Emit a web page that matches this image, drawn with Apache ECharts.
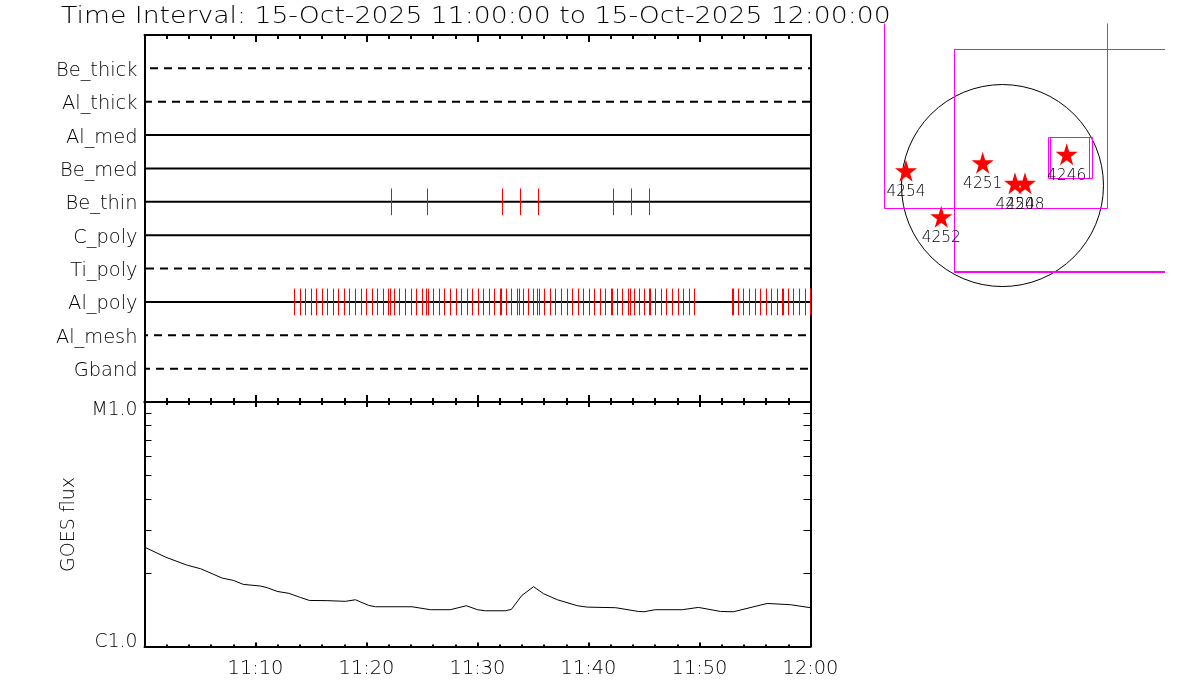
<!DOCTYPE html>
<html>
<head>
<meta charset="utf-8">
<title>Time Interval</title>
<style>html,body{margin:0;padding:0;background:#fff}#main{width:1200px;height:700px}</style>
<script src="https://cdn.jsdelivr.net/npm/echarts@6/dist/echarts.min.js"></script>
</head>
<body>
<div id="main"></div>
<script>
var titleText = 'Time Interval: 15-Oct-2025 11:00:00 to 15-Oct-2025 12:00:00';
var detectors = ['Be_thick', 'Al_thick', 'Al_med', 'Be_med', 'Be_thin', 'C_poly', 'Ti_poly', 'Al_poly', 'Al_mesh', 'Gband'];
var solidRows = ['Al_med', 'Be_med', 'Be_thin', 'C_poly', 'Al_poly'];
var timeLabels = ['', '11:10', '11:20', '11:30', '11:40', '11:50', '12:00'];

// minutes after 11:00 of each red exposure mark
var beThinTimes = [22.24, 25.49, 32.24, 33.86, 35.49, 42.24, 43.86, 45.49];
var alPolyTimes = [13.5, 14.05, 14.5, 15.04, 15.49, 16.03, 16.48, 17.02, 17.47, 18.01, 18.46, 19, 19.54, 19.99,
  20.53, 20.98, 21.52, 21.97, 22.15, 22.51, 22.96, 23.5, 24.04, 24.5, 25.04, 25.4, 25.58, 26.03, 26.57, 27.02,
  27.56, 28.1, 28.55, 29.09, 29.54, 30.08, 30.53, 31.07, 31.52, 32.06, 32.15, 32.6, 33.05, 33.59, 33.77, 34.13,
  34.58, 35.03, 35.39, 35.58, 36.03, 36.57, 37.02, 37.56, 38.1, 38.55, 39.09, 39.54, 40.08, 40.53, 41.07, 41.52,
  42.06, 42.15, 42.6, 43.05, 43.59, 43.77, 44.13, 44.58, 45.04, 45.49, 45.58, 46.03, 46.57, 47.02, 47.56, 48.1,
  48.55, 49.09, 49.54, 52.96, 53.05, 53.5, 53.95, 54.49, 55.03, 55.48, 56.02, 56.47, 57.01, 57.46, 57.55, 58.01,
  58.46, 59, 59.54, 60];

// GOES curve
var goesTimes = [0, 1.9, 3.85, 5.05, 7, 8, 8.9, 10.45, 11.05, 11.95, 13, 14.05, 14.85, 16.45, 16.6, 18.1, 19, 20.2,
  20.8, 24.1, 25.75, 27.55, 29, 30, 30.7, 32.5, 33.05, 34, 35.05, 35.95, 37.2, 39, 39.9, 42.45, 44.5, 45, 46, 48.45,
  49.9, 51.9, 53.05, 56.1, 58.2, 60];
var goesFlux = [2.55, 2.32, 2.15, 2.08, 1.905, 1.864, 1.795, 1.767, 1.74, 1.68, 1.65, 1.587, 1.543, 1.54, 1.525, 1.53,
  1.553, 1.472, 1.454, 1.454, 1.414, 1.414, 1.468, 1.414, 1.4, 1.4, 1.418, 1.618, 1.756, 1.644, 1.553, 1.468, 1.449,
  1.441, 1.391, 1.387, 1.414, 1.414, 1.445, 1.391, 1.387, 1.5, 1.482, 1.441];
var fluxTicks = [2, 3, 4, 5, 6, 7, 8, 9];
var fluxLabels = { 1: '{c|C1.0}', 10: '{m|M1.0}' };

// solar map, arcsec
var solarRadius = 960;
var regionNames = ['4254', '4251', '4250', '4248', '4252', '4246'];
var regionX = [-917, -188, 119, 214, -582, 610];
var regionY = [141, 217, 21, 21, -297, 297];
var fovX0 = [-1123, -458, -458, 439, 461];
var fovX1 = [996, 1656, 1656, 832, 860];
var fovY0 = [-217, -819, -829, 71, 67];
var fovY1 = [1902, 1295, 1295, 461, 456];

var FONT = '"DejaVu Sans"';
var INK = '#000';
var starPath = 'path://M50 0L61 35H98L68 57L79 91L50 70L21 91L32 57L2 35H39Z';
// where each dashed row's pattern starts
var dashPhase = { Be_thick: 8.5, Al_thick: 0.5, Ti_poly: 12.5, Al_mesh: 4.5, Gband: 2.5 };

var myChart = echarts.init(document.getElementById('main'), null, { renderer: 'canvas' });

function timeAxis(gridIndex, position, major, minor, showLabel) {
  return {
    type: 'value', gridIndex: gridIndex, position: position, min: 0, max: 60, interval: 10,
    axisLine: { show: true, onZero: false, lineStyle: { color: '#000', width: 2 } },
    axisTick: { show: true, inside: true, length: major, lineStyle: { color: '#000', width: 2 } },
    minorTick: { show: true, splitNumber: 5, length: minor, lineStyle: { color: '#000', width: 2 } },
    splitLine: { show: false },
    minorSplitLine: { show: false },
    axisLabel: {
      show: showLabel, margin: 13, color: INK, fontFamily: FONT, fontSize: 19.4, fontWeight: 200,
      hideOverlap: false, showMinLabel: true, showMaxLabel: true,
      formatter: function (v) { return timeLabels[Math.round(v / 10)]; }
    }
  };
}

function rowSeries() {
  return detectors.map(function (name, i) {
    var solid = solidRows.indexOf(name) >= 0;
    return {
      type: 'line', xAxisIndex: 0, yAxisIndex: 0, symbol: 'none', silent: true, z: 2,
      data: [[0, i + 1], [60, i + 1]],
      lineStyle: { color: '#000', width: 2, type: solid ? 'solid' : [8, 6], dashOffset: dashPhase[name] || 0 }
    };
  });
}

function marksSeries(name, times) {
  var row = detectors.indexOf(name) + 1;
  return {
    type: 'custom', xAxisIndex: 0, yAxisIndex: 0, silent: true, z: 3, clip: false,
    data: times.map(function (t) { return [t, row]; }),
    encode: { x: 0, y: 1 },
    renderItem: function (params, api) {
      var a = api.coord([api.value(0), api.value(1) - 0.4]);
      var b = api.coord([api.value(0), api.value(1) + 0.4]);
      var x = Math.floor(a[0]) + 0.5;
      return { type: 'line', shape: { x1: x, y1: a[1], x2: x, y2: b[1] }, style: { stroke: '#ff0000', lineWidth: 1 } };
    }
  };
}

option = {
  animation: false,
  backgroundColor: '#fff',
  grid: [
    { left: 144.5, top: 35, width: 666, height: 367 },
    { left: 144.5, top: 402, width: 666, height: 244.5 },
    { left: 865.7, top: 23.5, width: 298.8, height: 288.3 }
  ],
  xAxis: [
    timeAxis(0, 'bottom', 7, 4, false),
    timeAxis(0, 'top', 7, 4, false),
    timeAxis(1, 'top', 5, 3, false),
    timeAxis(1, 'bottom', 4, 2, true),
    { type: 'value', gridIndex: 2, min: -1300, max: 1540, show: false }
  ],
  yAxis: [
    {
      type: 'value', gridIndex: 0, min: 0, max: 11, interval: 1, inverse: true, position: 'left',
      axisLine: { show: true, onZero: false, lineStyle: { color: '#000', width: 2 } },
      axisTick: { show: false }, splitLine: { show: false },
      axisLabel: {
        margin: 7, color: INK, fontFamily: FONT, fontSize: 19.4, fontWeight: 200, verticalAlign: 'top', lineHeight: 5,
        formatter: function (v) { return detectors[v - 1] || ''; }
      }
    },
    {
      type: 'value', gridIndex: 0, min: 0, max: 11, inverse: true, position: 'right',
      axisLine: { show: true, onZero: false, lineStyle: { color: '#000', width: 2 } },
      axisTick: { show: false }, splitLine: { show: false }, axisLabel: { show: false }
    },
    {
      type: 'log', logBase: 10, gridIndex: 1, min: 1, max: 10, position: 'left',
      axisLine: { show: true, onZero: false, lineStyle: { color: '#000', width: 2 } },
      axisTick: { show: true, inside: true, length: 7, customValues: fluxTicks, lineStyle: { color: '#000', width: 1 } },
      splitLine: { show: false },
      axisLabel: {
        margin: 7,
        customValues: [1, 10],
        verticalAlignMinLabel: 'bottom', verticalAlignMaxLabel: 'top',
        formatter: function (v) { return fluxLabels[Math.round(v)] || ''; },
        rich: {
          c: { color: INK, fontFamily: FONT, fontSize: 18.8, fontWeight: 200, lineHeight: 8 },
          m: { color: INK, fontFamily: FONT, fontSize: 18.8, fontWeight: 200, lineHeight: 17 }
        }
      }
    },
    {
      type: 'log', logBase: 10, gridIndex: 1, min: 1, max: 10, position: 'right',
      axisLine: { show: true, onZero: false, lineStyle: { color: '#000', width: 2 } },
      axisTick: { show: true, inside: true, length: 7, customValues: fluxTicks, lineStyle: { color: '#000', width: 1 } },
      splitLine: { show: false }, axisLabel: { show: false }
    },
    { type: 'value', gridIndex: 2, min: -1200, max: 1540, show: false }
  ],
  graphic: [
    {
      type: 'text', x: 61, y: 6, scaleX: 1.16,
      style: { text: titleText, fontFamily: FONT, fontSize: 23, fontWeight: 200, fill: INK }
    },
    {
      type: 'text', left: 60, top: 477, rotation: Math.PI / 2,
      style: { text: 'GOES flux', fontFamily: FONT, fontSize: 19, fontWeight: 200, fill: INK }
    }
  ],
  series: rowSeries().concat([
    marksSeries('Be_thin', beThinTimes),
    marksSeries('Al_poly', alPolyTimes),
    {
      type: 'line', xAxisIndex: 3, yAxisIndex: 2, symbol: 'none', silent: true,
      data: goesTimes.map(function (t, i) { return [t, goesFlux[i]]; }),
      lineStyle: { color: '#000', width: 1 }
    },
    {
      type: 'custom', xAxisIndex: 4, yAxisIndex: 4, silent: true, clip: true, z: 2,
      data: [[0, 0, solarRadius]],
      encode: { x: 0, y: 1 },
      renderItem: function (params, api) {
        var c = api.coord([api.value(0), api.value(1)]);
        var r = api.size([api.value(2), 0])[0];
        return { type: 'circle', shape: { cx: c[0], cy: c[1], r: r }, style: { fill: 'none', stroke: '#000', lineWidth: 1 } };
      }
    },
    {
      type: 'custom', xAxisIndex: 4, yAxisIndex: 4, silent: true, clip: true, z: 3,
      data: fovX0.map(function (x, i) { return [x, fovY0[i], fovX1[i], fovY1[i]]; }),
      encode: { x: [0, 2], y: [1, 3] },
      renderItem: function (params, api) {
        var a = api.coord([api.value(0), api.value(3)]);
        var b = api.coord([api.value(2), api.value(1)]);
        return {
          type: 'rect',
          shape: { x: Math.floor(a[0]) + 0.5, y: Math.floor(a[1]) + 0.5, width: Math.round(b[0] - a[0]), height: Math.round(b[1] - a[1]) },
          style: { fill: 'none', stroke: '#ff00ff', lineWidth: 1 }
        };
      }
    },
    {
      type: 'scatter', xAxisIndex: 4, yAxisIndex: 4, silent: true, z: 4,
      symbol: starPath, symbolSize: 22,
      itemStyle: { color: '#ff0000', opacity: 1 },
      data: regionNames.map(function (n, i) { return { name: n, value: [regionX[i], regionY[i]] }; }),
      label: {
        show: true, position: 'bottom', distance: 3, color: INK, fontFamily: FONT, fontSize: 15.4, fontWeight: 200,
        formatter: function (p) { return p.name; }
      }
    }
  ])
};
myChart.setOption(option);
</script>
</body>
</html>
